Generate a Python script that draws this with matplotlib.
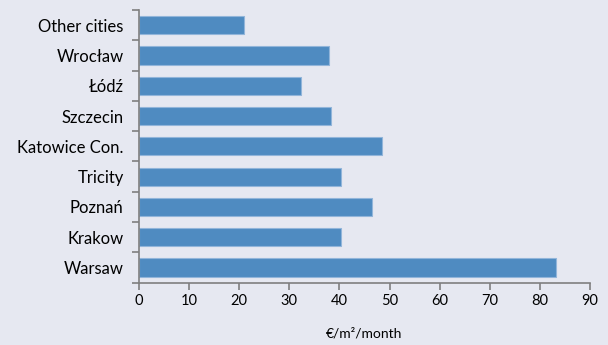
import matplotlib.pyplot as plt
from matplotlib.ticker import FixedLocator

cities = ['Warsaw', 'Krakow', 'Poznań', 'Tricity', 'Katowice Con.',
          'Szczecin', 'Łódź', 'Wrocław', 'Other cities']
rents = [83.2, 40.3, 46.4, 40.3, 48.5, 38.4, 32.4, 37.9, 21.0]
xticks = [0, 10, 20, 30, 40, 50, 60, 70, 80, 90]

bg = '#e6e8f1'
axis_grey = '#7f7f7f'
plt.rcParams['font.family'] = ['Lato', 'DejaVu Sans']

fig = plt.figure(figsize=(6.08, 3.45), dpi=100, facecolor=bg)
ax = fig.add_axes([0.2286, 0.1806, 0.9704 - 0.2286, 0.971 - 0.1806])
ax.set_facecolor(bg)

ax.barh(range(len(cities)), rents, height=0.6, color='#4f8bc1',
        edgecolor='#92b5da', linewidth=0.8)

ax.set_xlim(0, 90)
ax.set_ylim(-0.5, len(cities) - 0.5)
ax.set_xticks(xticks)
ax.set_xticklabels([str(t) for t in xticks], fontsize=10.5)

# category ticks sit between bars, labels stay centred on them
ax.yaxis.set_major_locator(FixedLocator([i - 0.5 for i in range(len(cities) + 1)]))
ax.yaxis.set_major_formatter(plt.NullFormatter())
ax.yaxis.set_minor_locator(FixedLocator(range(len(cities))))
ax.set_yticklabels(cities, minor=True, fontsize=12)
ax.tick_params(axis='y', which='minor', length=0, pad=11)
ax.tick_params(axis='y', which='major', length=5, width=1.2, color=axis_grey)
ax.tick_params(axis='x', length=5, width=1.2, color=axis_grey, pad=3)

for side in ['top', 'right']:
    ax.spines[side].set_visible(False)
for side in ['left', 'bottom']:
    ax.spines[side].set_color(axis_grey)
    ax.spines[side].set_linewidth(1.2)

ax.set_xlabel('€/m²/month', fontsize=10, labelpad=14)

fig.savefig('out.png', dpi=100, facecolor=bg)
